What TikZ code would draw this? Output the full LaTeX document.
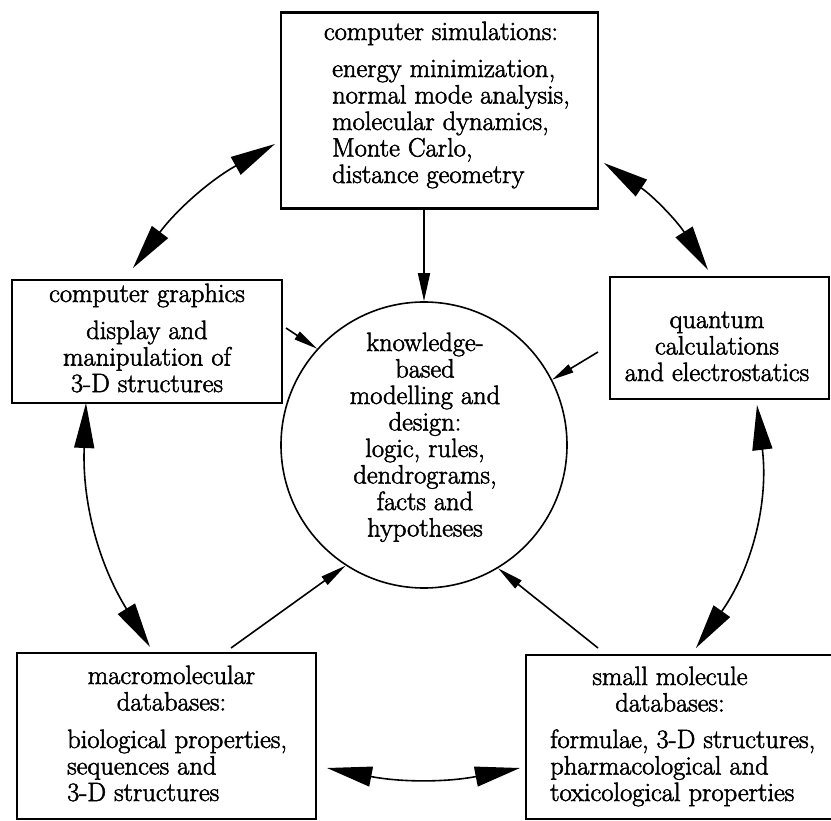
\documentclass[tikz,border=0pt]{standalone}
\usepackage{fontspec}
\setmainfont{Latin Modern Roman}[RawFeature={embolden=2}]
\usetikzlibrary{arrows.meta}
\begin{document}
\begin{tikzpicture}[x=1pt,y=-1pt,
    box/.style={draw, line width=2.4pt, inner sep=0pt},
    words/.style={font=\fontsize{26.5}{26.5}\selectfont, inner sep=0pt, anchor=base},
    feeds/.style={line width=1.6pt, -{Triangle[length=26pt,width=10pt]}},
    swaps/.style={line width=1.6pt, {Triangle[length=45pt,width=20pt]}-{Triangle[length=45pt,width=20pt]}}]
    \useasboundingbox (0,0) rectangle (831,821);

    % boxes round the centre
    \node[box, minimum width=317pt, minimum height=196pt] (sim) at (439.5,110.5) {};
    \node[box, minimum width=270pt, minimum height=123pt] (gfx) at (147,341.5) {};
    \node[box, minimum width=219pt, minimum height=122pt] (quant) at (719.5,338) {};
    \node[box, minimum width=299pt, minimum height=166pt] (macro) at (166.5,736) {};
    \node[box, minimum width=314pt, minimum height=164pt] (small) at (683,737) {};
    \node[draw, circle, line width=1.6pt, minimum size=286pt, inner sep=0pt] (kb) at (424,445) {};

    % texts
    \node[words] (simhead) at (441,40) {computer simulations:};
    \node[words, anchor=base west] (simbody) at (332,77) {\begin{tabular}[t]{@{}l@{}}
        energy minimization,\\ normal mode analysis,\\ molecular dynamics,\\
        Monte Carlo,\\ distance geometry\end{tabular}};
    \node[words] (gfxhead) at (147,302) {computer graphics};
    \node[words] (gfxbody) at (147,339) {\begin{tabular}[t]{@{}c@{}}
        display and\\ manipulation of\\ 3-D structures\end{tabular}};
    \node[words] (quantbody) at (717,328) {\begin{tabular}[t]{@{}c@{}}
        quantum\\ calculations\\ and electrostatics\end{tabular}};
    \node[words] (machead) at (171.5,684) {\begin{tabular}[t]{@{}c@{}}
        macromolecular\\ databases:\end{tabular}};
    \node[words, anchor=base west] (macbody) at (67,748) {\begin{tabular}[t]{@{}l@{}}
        biological properties,\\ sequences and\\ 3-D structures\end{tabular}};
    \node[words] (smallhead) at (670,685) {\begin{tabular}[t]{@{}c@{}}
        small molecule\\ databases:\end{tabular}};
    \node[words, anchor=base west] (smallbody) at (550,748) {\begin{tabular}[t]{@{}l@{}}
        formulae, 3-D structures,\\ pharmacological and\\ toxicological properties\end{tabular}};
    \node[words] (kbtext) at (425,351) {\begin{tabular}[t]{@{}c@{}}
        knowledge-\\ based\\ modelling and\\ design:\\ logic, rules,\\
        dendrograms,\\ facts and\\ hypotheses\end{tabular}};

    % free ends of the connectors
    \coordinate (gfxout) at (286,328);
    \coordinate (quantout) at (598,352);
    \coordinate (macout) at (231,648);
    \coordinate (smallout) at (598,648);
    \coordinate (gfxtop) at (133,268);
    \coordinate (simleft) at (275,144);
    \coordinate (simright) at (604,163);
    \coordinate (quanttop) at (708,270);
    \coordinate (gfxlow) at (86,403);
    \coordinate (macup) at (150,647);
    \coordinate (quantlow) at (757,405);
    \coordinate (smallup) at (696,648);
    \coordinate (macright) at (327,768);
    \coordinate (smallleft) at (520,768);

    % into the centre
    \draw[feeds, -{Triangle[length=28pt,width=12pt]}] (kb |- sim.south) -- (kb.north);
    \draw[feeds, -{Triangle[length=24pt,width=9pt]}] (gfxout) -- (kb.138);
    \draw[feeds, -{Triangle[length=22pt,width=9pt]}] (quantout) -- (kb.27);
    \draw[feeds] (macout) -- (kb.237);
    \draw[feeds] (smallout) -- (kb.301);

    % round the ring
    \draw[swaps] (gfxtop) to[bend left=12] (simleft);
    \draw[swaps] (simright) to[bend left=12] (quanttop);
    \draw[swaps] (gfxlow) to[bend right=17] (macup);
    \draw[swaps] (quantlow) to[bend left=21] (smallup);
    \draw[swaps] (macright) to[bend right=11] (smallleft);
\end{tikzpicture}
\end{document}
